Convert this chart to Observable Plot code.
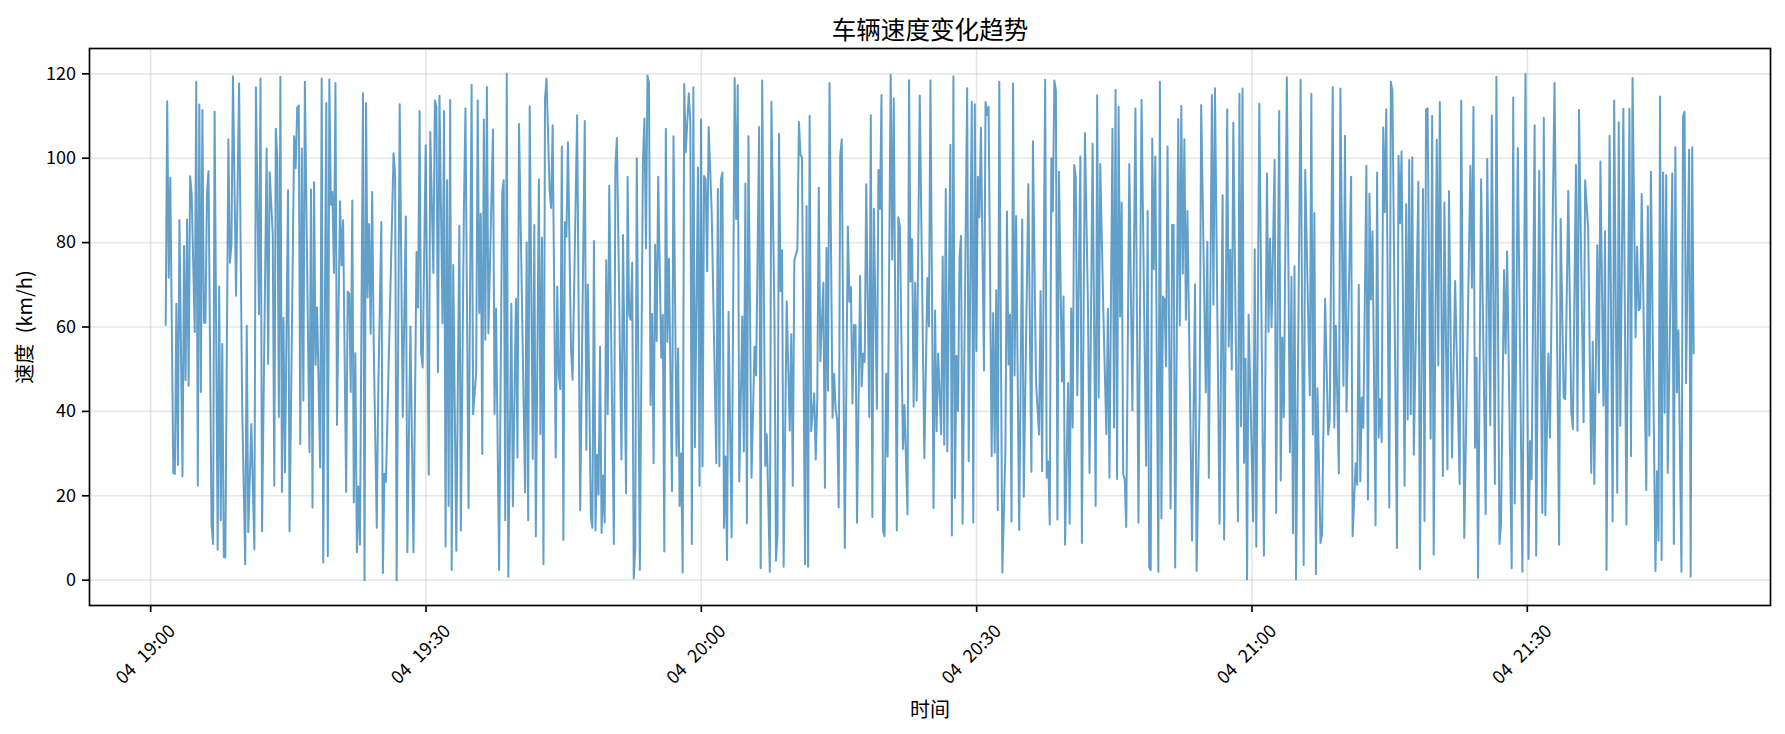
<!DOCTYPE html>
<html>
<head>
<meta charset="utf-8">
<style>html,body{margin:0;padding:0;background:#fff}</style>
<script src="https://cdn.jsdelivr.net/npm/d3@7"></script>
<script src="https://cdn.jsdelivr.net/npm/@observablehq/plot@0.6"></script>
</head>
<body>
<div id="chart"></div>
<script>
// [sample number (10 s apart), speed km/h]
const part1 = [[0,60.5],[1,113.5],[2,71.7],[3,95.4],[5,25.4],[6,25.2],[7,65.5],[8,27.3],[9,85.3],[11,24.6],[12,79.2],[13,47.4],[14,85.5],[15,46.1],[16,95.7],[17,91.5],[19,58.8],[20,118.1],[21,22.4],[22,112.7],[23,44.6],[24,111.4],[25,61],[26,61],[27,91.5],[28,96.9],[30,13.1],[31,8.6],[32,111],[34,7.2],[35,69.6],[36,14.2],[37,56],[38,5.5],[39,5.4],[41,104.5],[42,75.2],[43,79.5],[44,119.4],[46,67.4],[48,117.7],[50,41.5],[52,3.8],[53,60.3],[54,11.4],[56,37],[58,7.3],[59,116.8],[61,63],[62,118.9],[63,11.6],[66,102.3],[67,51.3],[68,96.7],[70,82],[71,22.4],[72,107],[73,100],[74,38.7],[75,119.3],[76,20.9],[77,62.2],[78,25.6],[80,92.4],[81,11.6],[84,105.2],[85,97.6],[86,112],[87,112.5],[88,32.3],[89,102.3],[90,42.6],[91,118.1],[94,30.3],[95,92.6],[96,17.2],[97,94.3],[98,51],[99,64.6],[101,26.7],[102,118.9],[103,4.2],[105,113.1],[106,5.7],[107,118.7],[108,89],[109,92],[110,72.8],[111,117.8],[112,36.8],[114,89.8],[115,74.6],[116,85.3],[118,20.9],[119,68.4],[120,67.8],[121,44.6],[122,90],[123,18.4],[124,53.8],[125,6.6],[126,22.2],[127,8.4],[129,115.4],[130,0],[131,113.1],[132,67],[133,84.4],[134,58.4],[135,92],[136,56.2],[138,12.4],[139,45],[141,84.9],[142,1.7],[143,25.2],[144,23.3],[149,101.2],[150,95.9],[151,0],[153,112.8],[155,38.7],[157,86.2],[158,6.6],[160,60.1],[162,6.6],[164,77.8],[165,64.6],[166,111.2],[167,54],[168,50.4],[170,103],[172,25],[173,106.2],[175,72.8],[176,113.7],[177,112.2],[178,49.3],[179,114.8]];
const part2 = [[181,60.9],[182,111.2],[183,8],[184,94.8],[185,17.6],[186,113.8],[187,2.4],[188,74.7],[190,7],[192,84],[193,11.8],[195,88.6],[196,111.8],[198,17.1],[200,117.4],[201,39.3],[203,49.3],[204,113.7],[205,63.3],[206,86.8],[207,29.9],[208,109.2],[209,57],[210,116.9],[211,58.5],[214,106.8],[215,39.4],[216,64.4],[218,2.4],[220,91.8],[221,94.8],[222,14.2],[223,120],[224,0.8],[226,65.5],[227,17.5],[229,66.7],[230,29.1],[231,108.1],[235,20.8],[236,80],[237,14.2],[238,112.3],[240,28.7],[241,84.2],[242,10.4],[244,95],[245,34.6],[246,81.2],[247,3.8],[248,114.2],[249,118.9],[251,92.6],[252,88.2],[253,107.8],[255,29.1],[256,69.6],[257,48.5],[258,45.3],[259,102.8],[260,9.5],[261,84.8],[262,81.4],[263,103.8],[265,54.9],[266,47.5],[269,110.2],[271,16.6],[274,108.8],[275,30.9],[276,70.1],[278,14.8],[279,12.4],[280,80.4],[281,11.8],[282,29.7],[283,20.3],[284,55.3]];
const part3 = [[285,11.2],[286,24.8],[287,13.6],[288,75.8],[289,39.3],[290,93.5],[293,8.6],[294,98],[295,104.8],[298,28.6],[299,81.8],[301,20.6],[302,95.6],[303,62.9],[304,61.7],[305,75.3],[306,0.4],[307,7.6],[308,100],[310,2.4],[312,99],[313,109.4],[314,78.6],[315,119.6],[316,117.8],[317,41.5],[318,63.1],[319,27.7],[320,79.5],[321,56.7],[322,95.6],[324,52.7],[325,62.9],[326,6.8],[327,107],[328,56.5],[329,76.2],[331,21.1],[332,105.2],[334,29.5],[335,54.9],[336,17.6],[337,30.1],[338,1.8],[339,117.6],[340,101.4],[342,115.4],[343,108.6],[344,8.6],[345,116.8],[346,31.5],[348,97.8],[349,22.4],[350,109.2],[351,27],[352,95.8],[353,95],[354,73.2],[355,107.4],[357,87],[360,27.7],[361,92.7],[362,27],[363,95],[364,96.6],[365,12.4],[366,29.3],[367,4.8],[368,63.6],[370,10.2],[372,119],[373,85.6],[374,117.3],[375,23.4],[377,62.5],[378,30.5],[379,94],[380,13.5],[381,105.2],[383,24.3],[385,55.3],[386,48.5],[388,107.4],[389,2.8]];
const part4 = [[390,118.4],[392,27.1],[393,34.5],[395,2],[396,113.4],[398,62.9],[399,4.6],[400,10.8],[401,105.8],[402,68.5],[403,78.2],[404,3.2],[406,66.1],[408,35.4],[409,58.3],[410,22.4],[411,75.8],[413,78.4],[414,108.6],[415,100.8],[416,100.2],[418,3.8],[419,88.7],[420,3.2],[421,110],[422,35.3],[424,44.3],[425,28.6],[426,42.9],[427,93],[428,51.9],[430,70.5],[431,21.9],[432,78.7],[433,44.9],[434,117.8],[436,38.5],[437,48.9],[438,40.5],[439,38.1],[440,17.2],[441,100.6],[442,104.5],[444,7.6],[446,83.8],[447,66],[448,69.5],[449,41.9],[450,60.5],[451,60.4],[452,13.6],[454,72.1],[455,45.9],[456,53.7],[457,51.7],[458,93.8],[460,38.7],[461,110.2],[462,15],[463,88],[465,40.6],[466,97.2],[467,88],[468,115],[469,11.6],[470,10.4],[471,48.9],[472,29.3],[474,119.7],[475,76],[476,114.2],[478,11.8],[479,86],[480,83.8],[482,31.1],[483,41.5],[485,15.6],[486,118.5],[487,70.8],[488,80.8],[489,41.1],[490,70.5],[491,42.5],[493,114.8]];
const part5 = [[496,28.9],[498,71.6],[499,60.1],[500,118.4],[502,17.1],[503,63.9],[504,35.3],[505,53.7],[507,34.6],[508,76.7],[509,32.1],[510,92.7],[511,30.5],[513,103.2],[514,10.6],[515,119.4],[516,19.5],[517,53.1],[518,40.1],[519,76.6],[520,81.6],[521,13.4],[524,116.6],[525,28.2],[527,113.4],[528,13.6],[529,112.8],[530,54.3],[531,95.6],[532,86],[533,107.2],[535,49.7],[536,113.3],[537,110.2],[538,112.2],[540,29.4],[541,63.3],[542,30.2],[543,68.7],[544,16.6],[545,118.1],[547,1.8],[549,30.9],[550,87.4],[551,51.1],[552,62.9],[553,13.9],[554,117.7],[555,48.5],[556,86.3],[558,11.9],[560,85.5],[561,19.8],[564,93.8],[566,25.7],[567,104],[569,46.9],[571,34.5],[572,68.5],[573,25.8],[575,118.6],[576,24.3],[577,28.1],[578,13.2],[579,100],[580,87.4],[581,118.4],[582,116.2],[583,14.4],[584,96.8],[586,47.1],[587,67.2],[588,8.4],[590,46.7],[591,13.4],[592,64.4],[593,36.2],[594,98.4],[595,95.4],[596,43.8]];
const part6 = [[598,100.4],[599,8.8],[601,106],[603,64.1],[604,25.4],[606,103.4],[608,17.6],[609,114.9],[610,43.3],[611,98.6],[613,64.1],[615,34.6],[616,64.3],[617,24.3],[619,107],[620,36.2],[621,116.2],[622,24],[623,112.2],[624,62.5],[625,89.5],[626,25.1],[627,24],[628,12.6],[630,98.6],[632,40.2],[634,111.8],[636,13.6],[638,113.8],[641,27.1],[642,87.5],[643,3],[644,2.4],[645,104.6],[646,73.7],[647,100.4],[649,2],[650,118.1],[651,14.7],[652,67.2],[653,66.5],[654,50.7],[655,102.8],[657,17],[658,84.2],[659,84.2],[660,3],[662,109.3],[663,60.4],[664,112.4],[665,72.7],[666,104.5],[667,61.7],[668,87.5],[671,9.4],[673,70.1],[674,2.2],[676,43],[677,112.6],[680,44.5],[681,80.2],[682,24.3],[684,115],[685,65.3],[686,116.6],[689,13.4],[691,91.2],[692,9.6],[694,111.6],[695,55.3],[696,78.3],[697,49.9],[698,108.4],[701,13.9],[702,115.3]];
const part7 = [[703,36.5],[704,116.5],[705,27.8],[706,52.5],[707,0.2],[708,62.9],[711,13.9],[712,78.4],[713,7.9],[715,112.9],[718,5.8],[720,96.4],[721,58.9],[722,81],[723,60],[725,99.6],[726,15.9],[728,111.2],[729,23.6],[730,57.5],[731,38.6],[733,119.2],[735,30.3],[736,71.9],[737,11.1],[738,74.4],[739,0.2],[742,118.6],[744,3.6],[745,97.2],[748,43.8],[749,115.2],[750,34.5],[751,87],[752,1.4],[753,45.5],[755,8.8],[756,10.8],[758,66.7],[760,34.5],[761,38],[763,116.8],[764,36.2],[765,60.3],[767,25.3],[768,116.5],[770,46.1],[771,105.3],[772,39.9],[775,95.6],[776,10.4],[778,27.7],[779,22.6],[780,70],[781,23.4],[782,43.3],[783,36.1],[785,98.2],[786,19.1],[787,91.6],[788,66.5],[789,82.7],[791,13],[792,96.6],[793,33.8],[794,42.9],[795,32.7],[796,107.3],[797,87.2],[798,111.6],[800,17.2],[801,118.1],[802,116],[805,7.6],[806,100.6]];
const part8 = [[807,84.6],[808,101.6],[810,22.4],[811,89.1],[812,38.1],[813,99.6],[814,39.3],[815,100.2],[816,29.7],[819,94.4],[820,2.6],[822,92.7],[823,14],[824,111.6],[825,111.8],[827,33.5],[828,110],[829,6],[831,104.4],[832,50.9],[833,113.3],[835,24.7],[836,89.5],[838,26.3],[839,92.2],[841,29.1],[843,70.9],[846,22.8],[847,113.6],[849,10],[853,98.2],[854,69.3],[855,112.2],[856,31.4],[857,52.7],[858,0.6],[860,95],[863,15.6],[864,99.8],[866,36.7],[867,110.1],[869,22.8],[870,119.3],[872,8.6],[873,13.2],[875,73.5],[876,53.7],[877,77.9],[880,2.8],[881,114.4],[882,18.2],[884,102.4],[887,2],[889,120],[891,5],[892,33],[893,23.9],[895,107.8],[896,5.8],[898,97],[900,15.9],[901,109.6],[902,15.4],[904,53.7],[905,33.8],[906,63.3],[908,117.8],[911,8.4]];
const part9 = [[912,85.6],[914,43.3],[915,42.9],[917,92.3],[919,39.7],[920,35.8],[922,98.4],[923,35.4],[924,111.4],[927,37.4],[928,94.8],[930,83.2],[932,25.4],[933,56.5],[934,22.8],[936,79.4],[937,44.5],[938,99.2],[940,41.4],[941,82.7],[942,2.4],[944,105.3],[946,13.9],[947,113.7],[949,20.7],[950,108.5],[951,36.6],[953,111.7],[955,13.2],[957,111.7],[958,29.4],[959,119],[961,57.6],[962,79.1],[963,63.9],[964,64.5],[965,91.5],[968,21.4],[969,88.6],[970,34.2],[971,96.8],[974,2.2],[975,25.8],[976,9.4],[977,114.6],[978,4.8],[979,96.6],[980,39.7],[981,96],[982,25.4],[985,96.4],[986,8.6],[987,102.6],[988,44.5],[989,59.2],[991,2],[992,109.8],[993,111],[994,46.7],[996,102],[997,0.8],[998,102.6],[999,53.7]];

const startTime = Date.UTC(2024, 0, 4, 19, 1, 38);
const sampleSeconds = 10;
const xStart = new Date(Date.UTC(2024, 0, 4, 18, 53, 20));
const xEnd = new Date(Date.UTC(2024, 0, 4, 21, 56, 30));
const xTicks = [[19,0],[19,30],[20,0],[20,30],[21,0],[21,30]].map(([h,m]) => new Date(Date.UTC(2024, 0, 4, h, m)));
const yTicks = [0, 20, 40, 60, 80, 100, 120];

const titleText = "车辆速度变化趋势";
const xLabel = "时间";
const yLabel = "速度 (km/h)";

const rows = [part1, part2, part3, part4, part5, part6, part7, part8, part9].flat()
  .map(([i, v]) => ({time: new Date(startTime + i * sampleSeconds * 1000), speed: v}));

const chart = Plot.plot({
  width: 1785, height: 734,
  marginLeft: 89, marginRight: 15, marginTop: 48, marginBottom: 129,
  style: {fontFamily: '"Noto Sans CJK SC", "Noto Sans", sans-serif', fontSize: "18px", wordSpacing: "6px", background: "#fff", color: "#000"},
  x: {type: "utc", domain: [xStart, xEnd]},
  y: {domain: [-6, 126]},
  marks: [
    Plot.gridX(xTicks, {stroke: "#b0b0b0", strokeOpacity: 0.3, strokeWidth: 1.67}),
    Plot.gridY(yTicks, {stroke: "#b0b0b0", strokeOpacity: 0.3, strokeWidth: 1.67}),
    Plot.line(rows, {x: "time", y: "speed", stroke: "#1f77b4", strokeOpacity: 0.7, strokeWidth: 2}),
    Plot.frame({stroke: "#000", strokeWidth: 1.67}),
    Plot.axisY({ticks: yTicks, tickSize: 7, tickPadding: 6.5, strokeWidth: 1.67, label: null, fill: "#000", stroke: "#000"}),
    Plot.axisX({ticks: xTicks, tickSize: 7, strokeWidth: 1.67, label: null, tickFormat: () => "", stroke: "#000"}),
    Plot.axisX({ticks: xTicks, tickSize: 0, label: null, tickFormat: d3.utcFormat("%d %H:%M"),
      tickRotate: -45, tickPadding: 49, textAnchor: "middle", lineAnchor: "middle", dx: -5, fill: "#000"}),
    Plot.text([titleText], {frameAnchor: "top", dy: -27, fontSize: 24.6, fill: "#000"}),
    Plot.text([xLabel], {frameAnchor: "bottom", dy: 111, fontSize: 20, fill: "#000"}),
    Plot.text([yLabel], {frameAnchor: "left", textAnchor: "middle", dx: -64, rotate: -90, fontSize: 20, fill: "#000"})
  ]
});
document.getElementById("chart").append(chart);
</script>
</body>
</html>
